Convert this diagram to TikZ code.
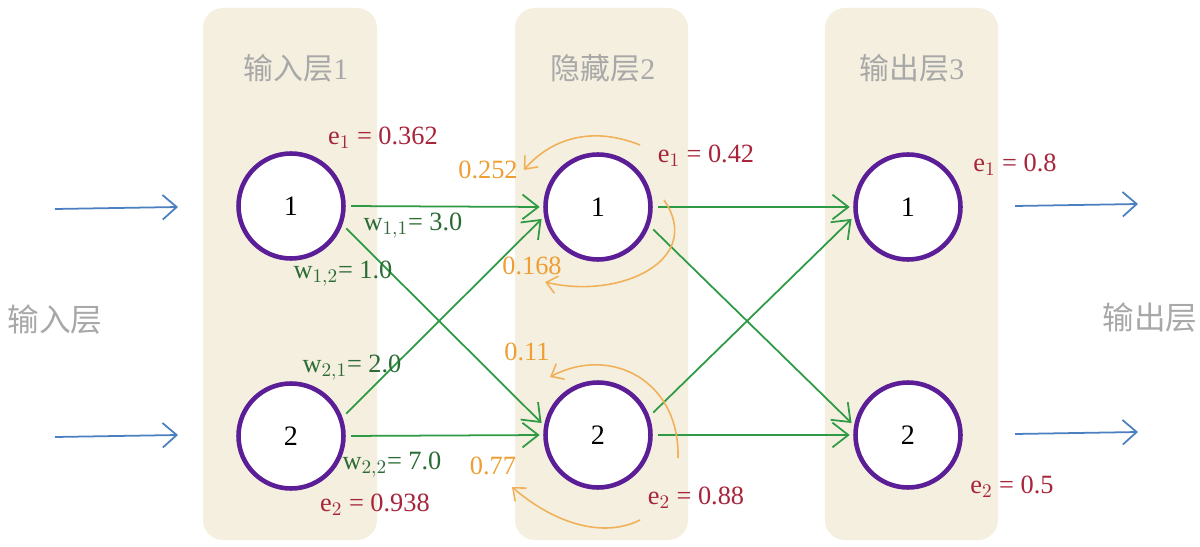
\documentclass[tikz,border=0pt]{standalone}
\usepackage{fontspec}
\setmainfont{Liberation Serif}
\newfontfamily\cjk{Noto Sans CJK SC}
\usetikzlibrary{arrows.meta}
\definecolor{panel}{HTML}{F4EFDF}
\definecolor{ring}{HTML}{5B1E96}
\definecolor{gr}{HTML}{2E9A44}
\definecolor{wl}{HTML}{2B6B35}
\definecolor{el}{HTML}{A8243A}
\definecolor{orl}{HTML}{EE9E32}
\definecolor{bl}{HTML}{4A7FC0}
\definecolor{tit}{HTML}{A8A8A8}
\tikzset{
  pane/.style={fill=panel,draw=none,rounded corners=0.4cm},
  neuron/.style={circle,draw=ring,line width=2.6pt,minimum size=2.1cm,fill=white,font=\fontsize{16}{16}\selectfont},
  conn/.style={draw=gr,line width=1pt,shorten <=3pt,shorten >=2pt,-{Straight Barb[length=9pt,width=14pt]}},
  inarr/.style={draw=bl,line width=1pt,-{Straight Barb[length=8pt,width=14pt]}},
  back/.style={draw=orl!80,line width=0.9pt,-{Straight Barb[length=6pt,width=10pt]}},
  title/.style={text=tit,font=\fontsize{17}{17}\selectfont},
  elab/.style={text=el,font=\fontsize{15}{15}\selectfont},
  wlab/.style={text=wl,font=\fontsize{15}{15}\selectfont},
  olab/.style={text=orl,font=\fontsize{15}{15}\selectfont},
}
\begin{document}
\begin{tikzpicture}[x=0.02cm,y=-0.02cm]
\useasboundingbox (0,0) rectangle (1200,547);
\fill[white] (0,0) rectangle (1200,547);
\path[pane] (203,8) rectangle (377,540);
\path[pane] (515,8) rectangle (688,540);
\path[pane] (825,8) rectangle (998,540);
\node[title] (t1) at (296,68) {{\cjk 输入层}1};
\node[title] (t2) at (603,68) {{\cjk 隐藏层}2};
\node[title] (t3) at (912,68) {{\cjk 输出层}3};
\node[title,font=\cjk\fontsize{18}{18}\selectfont] (il) at (55,320) {输入层};
\node[title,font=\cjk\fontsize{18}{18}\selectfont] (ol) at (1150,318) {输出层};

\node[neuron] (a1) at (291,206) {1};
\node[neuron] (a2) at (291,436) {2};
\node[neuron] (b1) at (598,207) {1};
\node[neuron] (b2) at (598,435) {2};
\node[neuron] (c1) at (908,207) {1};
\node[neuron] (c2) at (908,435) {2};

\coordinate (i1) at (55,209); \coordinate (i2) at (55,437);
\coordinate (j1) at (178,207); \coordinate (j2) at (178,435);
\coordinate (p1) at (1015,206); \coordinate (p2) at (1015,434);
\coordinate (o1) at (1138,204); \coordinate (o2) at (1138,432);
\draw[inarr] (i1) -- (j1);
\draw[inarr] (i2) -- (j2);
\draw[inarr] (p1) -- (o1);
\draw[inarr] (p2) -- (o2);

\draw[conn] (a1.east) -- (b1.west);
\draw[conn] (a1.-20) -- (b2.170);
\draw[conn] (a2.20) -- (b1.-170);
\draw[conn] (a2.east) -- (b2.west);
\draw[conn] (b1.east) -- (c1.west);
\draw[conn] (b1.-20) -- (c2.170);
\draw[conn] (b2.20) -- (c1.-170);
\draw[conn] (b2.east) -- (c2.west);

\node[elab] (e11) at (383,138) {e$_1$ = 0.362};
\node[elab] (e12) at (375,505) {e$_2$ = 0.938};
\node[elab] (e21) at (706,156) {e$_1$ = 0.42};
\node[elab] (e22) at (696,498) {e$_2$ = 0.88};
\node[elab] (e31) at (1015,165) {e$_1$ = 0.8};
\node[elab] (e32) at (1012,487) {e$_2$ = 0.5};

\node[wlab] (w11) at (413,226) {w$_{1,1}$= 3.0};
\node[wlab] (w12) at (343,274) {w$_{1,2}$= 1.0};
\node[wlab] (w21) at (352,368) {w$_{2,1}$= 2.0};
\node[wlab] (w22) at (392,465) {w$_{2,2}$= 7.0};

\node[olab] (o252) at (488,170) {0.252};
\node[olab] (o168) at (532,266) {0.168};
\node[olab] (o11) at (527,352) {0.11};
\node[olab] (o77) at (493,466) {0.77};

\coordinate (s1) at (640,145);
\coordinate (s2) at (664,200);
\coordinate (s3) at (678,458);
\coordinate (s4) at (640,520);
\coordinate (d2) at (545,282);
\coordinate (d3) at (550,377);
\coordinate (d4) at (512,487);
\draw[back] (s1) .. controls (590,125) and (550,140) .. (o252.east);
\draw[back] (s2) .. controls (705,260) and (620,300) .. (d2);
\draw[back] (s3) .. controls (680,380) and (610,345) .. (d3);
\draw[back] (s4) .. controls (600,540) and (550,520) .. (d4);
\end{tikzpicture}
\end{document}
